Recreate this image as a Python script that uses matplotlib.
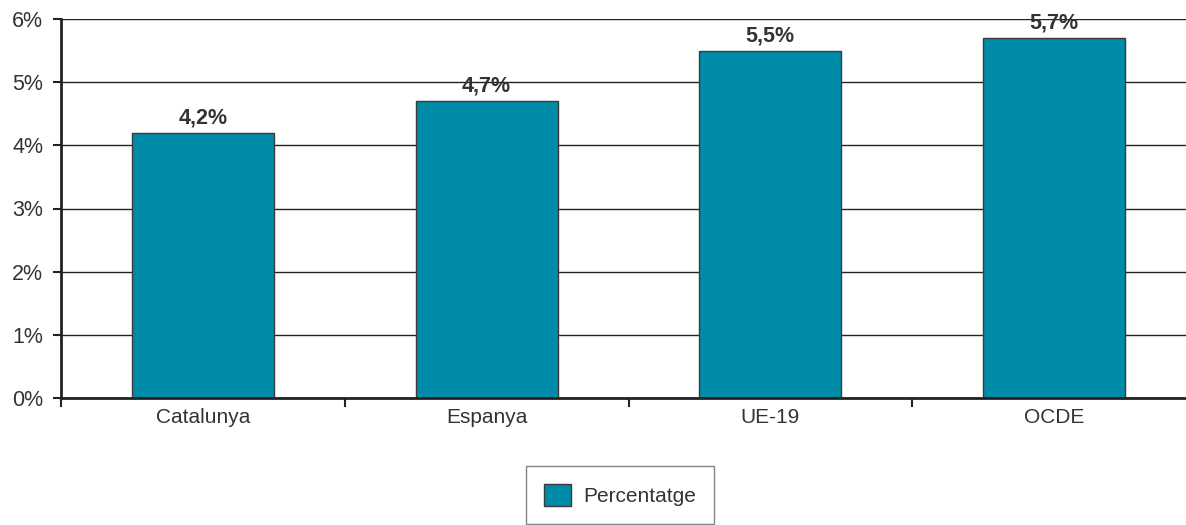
import matplotlib
matplotlib.use("Agg")
import matplotlib.pyplot as plt
from matplotlib.ticker import FuncFormatter, FixedLocator

categories = ["Catalunya", "Espanya", "UE-19", "OCDE"]
values = [4.2, 4.7, 5.5, 5.7]
labels = ["4,2%", "4,7%", "5,5%", "5,7%"]
series_name = "Percentatge"

plt.rcParams['font.family'] = ['Liberation Sans', 'DejaVu Sans']

W, H = 1186, 525
fig = plt.figure(figsize=(W / 100, H / 100), dpi=100)
left, right, top, bottom = 61, 1196, 19, 398
ax = fig.add_axes([left / W, (H - bottom) / H, (right - left) / W, (bottom - top) / H])

bar_color = "#008CA8"
x = list(range(len(categories)))
bars = ax.bar(x, values, width=0.5, color=bar_color, edgecolor="#3a3a3a",
              linewidth=1.0, zorder=3, label=series_name)

for xi, v, lab in zip(x, values, labels):
    ax.text(xi, v + 0.07, lab, ha="center", va="bottom", fontsize=15.5,
            fontweight="bold", color="#333333", zorder=4)

ax.set_xlim(-0.5, len(categories) - 0.5)
ax.set_ylim(0, 6)
ax.set_yticks(range(0, 7))
ax.yaxis.set_major_formatter(FuncFormatter(lambda v, p: f"{int(v)}%"))
ax.yaxis.grid(True, color="#222222", linewidth=1.0, zorder=1)
ax.xaxis.grid(False)

ax.set_xticks(x)
ax.set_xticklabels(categories)
ax.tick_params(axis="x", which="major", length=0, pad=7, labelsize=15, labelcolor="#333333")
ax.xaxis.set_minor_locator(FixedLocator([i - 0.5 for i in range(len(categories) + 1)]))
ax.tick_params(axis="x", which="minor", length=6.5, width=1.5, color="#222222", direction="out")
ax.tick_params(axis="y", length=5.8, width=1.5, color="#222222", labelsize=15.5,
               labelcolor="#333333", pad=7)

for s in ["top", "right"]:
    ax.spines[s].set_visible(False)
ax.spines["left"].set_linewidth(2.0)
ax.spines["left"].set_color("#222222")
ax.spines["bottom"].set_linewidth(2.0)
ax.spines["bottom"].set_color("#222222")
ax.spines["left"].set_zorder(5)
ax.spines["bottom"].set_zorder(5)

leg = fig.legend(handles=[bars], labels=[series_name], loc="upper center",
                 bbox_to_anchor=(620 / W, (H - 466) / H), fontsize=15,
                 frameon=True, fancybox=False, edgecolor="#666666",
                 handlelength=1.3, handleheight=1.3, handletextpad=0.6,
                 borderpad=0.85, borderaxespad=0)
leg.get_frame().set_linewidth(1.0)
for t in leg.get_texts():
    t.set_color("#333333")

fig.savefig("out.png", dpi=100)
